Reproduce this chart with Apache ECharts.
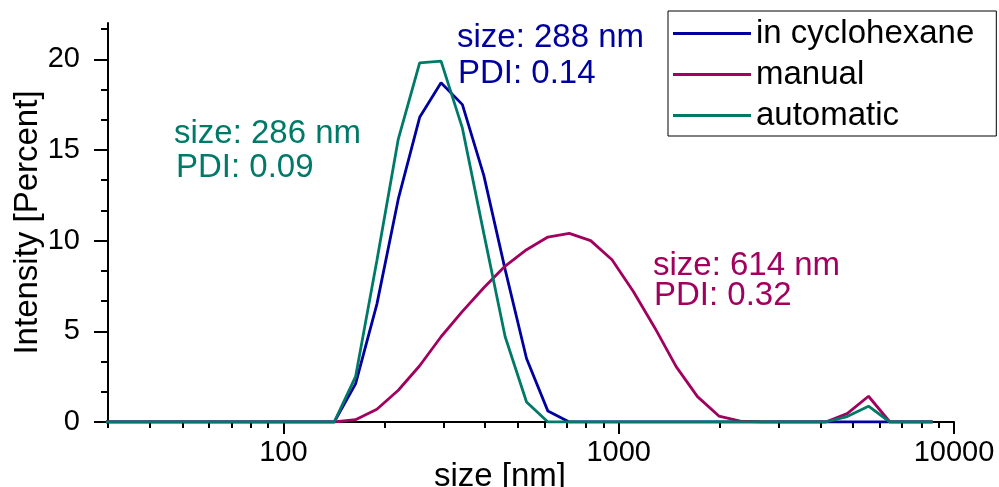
<!DOCTYPE html>
<html>
<head>
<meta charset="utf-8">
<title>Size distribution</title>
<script src="https://cdn.jsdelivr.net/npm/echarts@6.0.0/dist/echarts.min.js"></script>
<style>
  html, body { margin: 0; padding: 0; background: #fff; }
  #chart { width: 999px; height: 487px; }
</style>
</head>
<body>
<div id="chart"></div>
<script>
// size classes of the measurement [nm]
const sizes = [28.21, 32.67, 37.84, 43.82, 50.75, 58.77, 68.06, 78.82, 91.28, 105.7,
  122.4, 141.8, 164.2, 190.1, 220.2, 255.0, 295.3, 342.0, 396.1, 458.7,
  531.2, 615.1, 712.4, 825.0, 955.4, 1106, 1281, 1484, 1718, 1990,
  2305, 2669, 3091, 3580, 4145, 4801, 5560, 6439, 7456, 8635]

// intensity [%]
const cyclohexane = [0, 0, 0, 0, 0, 0, 0, 0, 0, 0,
  0, 0, 2.1, 6.5, 12.3, 16.8, 18.7, 17.5, 13.6, 8.4,
  3.5, 0.6, 0, 0, 0, 0, 0, 0, 0, 0,
  0, 0, 0, 0, 0, 0, 0, 0, 0, 0]
const manual = [0, 0, 0, 0, 0, 0, 0, 0, 0, 0,
  0, 0, 0.13, 0.7, 1.75, 3.1, 4.7, 6.1, 7.4, 8.6,
  9.5, 10.2, 10.4, 10.0, 8.95, 7.2, 5.2, 3.05, 1.4, 0.33,
  0.05, 0, 0, 0, 0, 0.46, 1.42, 0, 0, 0]
const automatic = [0, 0, 0, 0, 0, 0, 0, 0, 0, 0,
  0, 0, 2.5, 8.9, 15.6, 19.8, 19.9, 16.2, 10.4, 4.7,
  1.1, 0, 0, 0, 0, 0, 0, 0, 0, 0,
  0, 0, 0, 0, 0, 0.3, 0.87, 0, 0, 0]

// ticks
const xMajorTicks = [100, 1000, 10000]
const xMinorTicks = [30, 40, 50, 60, 70, 80, 90, 200, 300, 400, 500, 600, 700, 800, 900,
  2000, 3000, 4000, 5000, 6000, 7000, 8000, 9000]
const yMajorTicks = [0, 5, 10, 15, 20]
const yMinorTicks = [1.667, 3.333, 6.667, 8.333, 11.667, 13.333, 16.667, 18.333, 21.667]

const FONT = '"Liberation Sans", Arial, Helvetica, sans-serif'
const BLUE = '#0000a0'
const WINE = '#a2005e'
const TEAL = '#007a68'

const toPairs = values => sizes.map((s, i) => [s, values[i]])

const axisLine = { show: true, onZero: false, lineStyle: { color: '#000', width: 2 } }
const tickLine = { color: '#000', width: 2 }

// annotation texts next to the peaks
const notes = [
  { text: 'size: 288 nm', x: 457, y: 38, color: BLUE },
  { text: 'PDI: 0.14', x: 458, y: 74, color: BLUE },
  { text: 'size: 286 nm', x: 174, y: 134, color: TEAL },
  { text: 'PDI: 0.09', x: 176, y: 168, color: TEAL },
  { text: 'size: 614 nm', x: 653, y: 266, color: WINE },
  { text: 'PDI: 0.32', x: 654, y: 296, color: WINE }
]

const line = (name, values, color) => ({
  name,
  type: 'line',
  xAxisIndex: 0,
  yAxisIndex: 0,
  data: toPairs(values),
  color,
  symbol: 'none',
  showSymbol: false,
  lineStyle: { color, width: 2.8 },
  emphasis: { disabled: true }
})

const chart = echarts.init(document.getElementById('chart'), null, { renderer: 'canvas' })

chart.setOption({
  animation: false,
  backgroundColor: '#fff',
  textStyle: { fontFamily: FONT },
  grid: { left: 108, right: 45, top: 23, bottom: 65, outerBoundsMode: 'none', containLabel: false },
  legend: {
    orient: 'vertical',
    left: 668,
    top: 11,
    data: ['in cyclohexane', 'manual', 'automatic'],
    icon: 'rect',
    itemWidth: 78,
    itemHeight: 3,
    itemGap: 8,
    itemTextGap: 15,
    padding: [6, 22, 4, 5],
    borderColor: '#000',
    borderWidth: 1,
    borderRadius: 0,
    textStyle: { fontSize: 33, lineHeight: 32, color: '#000', fontFamily: FONT }
  },
  xAxis: [
    {
      type: 'log',
      logBase: 10,
      min: 30,
      max: 10000,
      position: 'bottom',
      name: 'size [nm]',
      nameLocation: 'middle',
      nameGap: 38,
      nameMoveOverlap: false,
      nameTextStyle: { fontSize: 33, color: '#000', fontFamily: FONT, padding: [0, 62, 0, 0] },
      axisLine,
      axisTick: { show: true, inside: false, length: 12, customValues: xMajorTicks, lineStyle: tickLine },
      axisLabel: {
        customValues: xMajorTicks,
        fontSize: 29,
        color: '#000',
        margin: 16,
        fontFamily: FONT,
        formatter: v => String(Math.round(v))
      },
      splitLine: { show: false }
    },
    {
      // minor ticks only
      type: 'log',
      logBase: 10,
      min: 30,
      max: 10000,
      position: 'bottom',
      axisLine: { show: false },
      axisTick: { show: true, inside: false, length: 6, customValues: xMinorTicks, lineStyle: tickLine },
      axisLabel: { show: false },
      splitLine: { show: false }
    }
  ],
  yAxis: [
    {
      type: 'value',
      min: 0,
      max: 22,
      position: 'left',
      name: 'Intensity [Percent]',
      nameLocation: 'middle',
      nameGap: 64,
      nameMoveOverlap: false,
      nameTextStyle: { fontSize: 33, color: '#000', fontFamily: FONT },
      axisLine,
      axisTick: { show: true, inside: false, length: 14, customValues: yMajorTicks, lineStyle: tickLine },
      axisLabel: { customValues: yMajorTicks, fontSize: 29, color: '#000', margin: 28, fontFamily: FONT },
      splitLine: { show: false }
    },
    {
      type: 'value',
      min: 0,
      max: 22,
      position: 'left',
      axisLine: { show: false },
      axisTick: { show: true, inside: false, length: 7, customValues: yMinorTicks, lineStyle: tickLine },
      axisLabel: { show: false },
      splitLine: { show: false }
    }
  ],
  graphic: notes.map(n => ({
    type: 'text',
    x: n.x,
    y: n.y,
    silent: true,
    style: {
      text: n.text,
      fill: n.color,
      font: '33px ' + FONT,
      verticalAlign: 'middle'
    }
  })),
  series: [
    line('in cyclohexane', cyclohexane, BLUE),
    line('manual', manual, WINE),
    line('automatic', automatic, TEAL)
  ]
})
</script>
</body>
</html>
